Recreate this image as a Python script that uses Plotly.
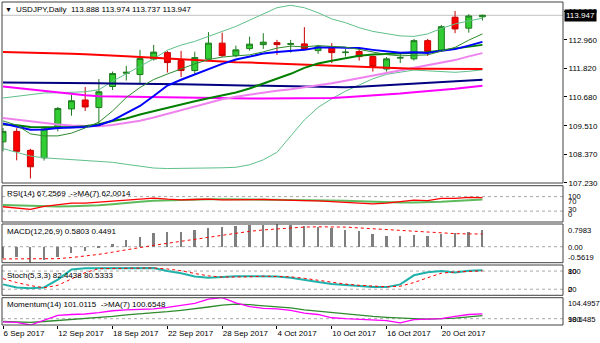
import plotly.graph_objects as go

# ---------------- data ----------------
dates = ["6 Sep 2017", "12 Sep 2017", "18 Sep 2017", "22 Sep 2017", "28 Sep 2017",
         "4 Oct 2017", "10 Oct 2017", "16 Oct 2017", "20 Oct 2017"]
date_bars = [0, 4, 8, 12, 16, 20, 24, 28, 32]
bars = list(range(36))

opens = [108.87, 109.29, 108.53, 108.23, 109.41, 110.19, 110.55, 110.25, 111.09, 111.62,
         111.57, 112.19, 112.45, 112.13, 111.73, 112.19, 112.83, 112.33, 112.61, 112.77,
         112.85, 112.78, 112.80, 112.53, 112.65, 112.45, 112.49, 112.29, 111.79, 112.23,
         112.20, 112.93, 112.53, 113.87, 113.43, 113.888]
highs = [109.43, 109.42, 108.59, 109.49, 110.27, 110.75, 111.07, 111.39, 111.69, 111.92,
         112.56, 112.76, 112.52, 112.52, 112.49, 113.27, 113.25, 112.73, 113.09, 113.23,
         112.96, 112.96, 113.47, 112.76, 112.83, 112.59, 112.65, 112.33, 112.27, 112.43,
         113.00, 113.00, 113.56, 114.12, 113.99, 113.974]
lows = [108.49, 108.13, 107.40, 108.12, 109.29, 109.92, 110.11, 109.60, 110.95, 111.33,
        111.18, 112.13, 111.65, 111.47, 111.60, 112.13, 112.27, 112.27, 112.53, 112.60,
        112.36, 112.45, 112.56, 112.40, 112.03, 112.29, 112.13, 111.69, 111.69, 112.03,
        112.13, 112.32, 112.49, 113.23, 113.25, 113.737]
closes = [109.29, 108.49, 107.87, 109.39, 110.21, 110.52, 110.27, 110.88, 111.61, 111.66,
          112.21, 112.47, 112.05, 111.73, 112.25, 112.83, 112.33, 112.56, 112.79, 112.87,
          112.77, 112.81, 112.61, 112.69, 112.45, 112.47, 112.29, 111.89, 112.20, 112.25,
          112.93, 112.49, 113.49, 113.40, 113.92, 113.947]
last_price = 113.947

ma_fast = [109.71, 109.54, 109.19, 109.11, 109.11, 109.22, 109.43, 109.66, 110.11, 110.65,
           111.05, 111.37, 111.59, 111.80, 112.00, 112.17, 112.27, 112.32, 112.36, 112.48,
           112.63, 112.71, 112.68, 112.73, 112.71, 112.67, 112.58, 112.46, 112.37, 112.32,
           112.35, 112.36, 112.51, 112.66, 112.95, 113.20]
ma_blue = [109.61, 109.50, 109.36, 109.37, 109.43, 109.45, 109.47, 109.54, 109.73, 110.02,
           110.31, 110.71, 111.13, 111.36, 111.57, 111.80, 112.00, 112.17, 112.29, 112.41,
           112.47, 112.50, 112.56, 112.65, 112.67, 112.64, 112.63, 112.56, 112.51, 112.44,
           112.46, 112.43, 112.52, 112.59, 112.73, 112.88]
ma_dkgreen = [109.57, 109.54, 109.47, 109.46, 109.44, 109.46, 109.50, 109.58, 109.71, 109.81,
              109.97, 110.11, 110.25, 110.37, 110.50, 110.62, 110.74, 110.85, 111.01, 111.21,
              111.39, 111.60, 111.84, 112.01, 112.12, 112.22, 112.32, 112.37, 112.40, 112.43,
              112.46, 112.46, 112.54, 112.62, 112.70, 112.76]
bb_upper = [110.63, 110.70, 110.78, 110.83, 110.84, 110.85, 110.88, 110.96, 111.30, 111.60,
            111.90, 112.20, 112.55, 112.75, 112.90, 113.10, 113.30, 113.50, 113.75, 114.00,
            114.25, 114.35, 114.25, 114.05, 113.80, 113.65, 113.45, 113.30, 113.20, 113.12,
            113.10, 113.20, 113.42, 113.60, 113.72, 113.83]
bb_lower = [108.60, 108.45, 108.30, 108.23, 108.20, 108.17, 108.13, 108.10, 108.05, 107.97,
            107.90, 107.82, 107.80, 107.80, 107.81, 107.82, 107.83, 107.85, 107.95, 108.15,
            108.45, 109.10, 109.75, 110.25, 110.60, 110.90, 111.15, 111.40, 111.58, 111.68,
            111.75, 111.72, 111.68, 111.66, 111.70, 111.76]
ma_red = [112.47, 112.46, 112.45, 112.44, 112.42, 112.40, 112.38, 112.36, 112.33, 112.30,
          112.27, 112.24, 112.20, 112.16, 112.13, 112.10, 112.08, 112.06, 112.05, 112.03,
          112.00, 111.98, 111.96, 111.95, 111.93, 111.91, 111.89, 111.86, 111.83, 111.81,
          111.80, 111.80, 111.79, 111.79, 111.79, 111.79]
ma_navy = [111.25, 111.25, 111.24, 111.24, 111.23, 111.23, 111.22, 111.22, 111.21, 111.21,
           111.20, 111.20, 111.19, 111.18, 111.17, 111.16, 111.15, 111.14, 111.13, 111.12,
           111.11, 111.09, 111.07, 111.05, 111.05, 111.06, 111.08, 111.11, 111.14, 111.17,
           111.20, 111.24, 111.28, 111.31, 111.34, 111.36]
ma_magenta = [111.09, 111.03, 110.96, 110.90, 110.85, 110.80, 110.74, 110.70, 110.69, 110.68,
              110.67, 110.66, 110.65, 110.64, 110.63, 110.63, 110.62, 110.62, 110.61, 110.61,
              110.61, 110.61, 110.62, 110.62, 110.63, 110.66, 110.69, 110.73, 110.77, 110.81,
              110.86, 110.90, 110.95, 111.00, 111.06, 111.12]
ma_violet = [109.83, 109.76, 109.68, 109.62, 109.57, 109.53, 109.50, 109.50, 109.55, 109.63,
             109.72, 109.85, 110.00, 110.15, 110.30, 110.45, 110.58, 110.68, 110.77, 110.85,
             110.92, 110.98, 111.05, 111.12, 111.22, 111.32, 111.42, 111.52, 111.62, 111.72,
             111.82, 111.92, 112.03, 112.15, 112.30, 112.43]

rsi = [42, 38, 35, 43, 48, 52, 52, 55, 59, 61, 64, 66, 63, 61, 62, 63, 61, 62, 62, 62,
       61, 61, 59, 58, 56, 53, 51, 50, 52, 55, 60, 59, 65, 65, 68, 67.2569]
rsi_ma = [47, 46, 44, 43, 43, 43.5, 44.3, 46.1, 49.1, 52.9, 55.9, 58.4, 60.0, 61.3, 62.3, 62.9,
          62.9, 62.6, 62.0, 61.9, 61.9, 61.7, 61.1, 60.7, 59.9, 58.6, 57.0, 55.4, 54.1, 53.6,
          53.9, 54.3, 56.0, 58.0, 60.6, 62.0014]

macd_main = [-0.40, -0.37, -0.5619, -0.47, -0.36, -0.23, -0.16, -0.06, 0.08, 0.22,
             0.35, 0.48, 0.51, 0.53, 0.58, 0.66, 0.70, 0.73, 0.75, 0.78,
             0.7983, 0.77, 0.73, 0.69, 0.66, 0.60, 0.54, 0.43, 0.39, 0.39,
             0.40, 0.37, 0.46, 0.49, 0.52, 0.5803]
macd_signal = [-0.43, -0.43, -0.44, -0.44, -0.42, -0.38, -0.33, -0.27, -0.19, -0.12,
               -0.03, 0.05, 0.12, 0.19, 0.27, 0.35, 0.42, 0.48, 0.54, 0.59,
               0.63, 0.66, 0.69, 0.70, 0.70, 0.69, 0.66, 0.63, 0.60, 0.57,
               0.54, 0.51, 0.47, 0.46, 0.45, 0.4491]

stoch_k = [36, 26, 23, 26, 52, 85, 89, 89, 90, 90, 90, 90, 80, 73, 62, 58, 60, 63, 63, 63,
           62, 58, 50, 44, 37, 33, 30, 27, 27, 36, 66, 76, 80, 75, 81, 82.4438]
stoch_d = [55, 42, 32, 25, 33, 54, 75, 88, 89, 90, 90, 90, 87, 81, 72, 64, 60, 60, 61, 63,
           63, 61, 56, 50, 42, 37, 33, 30, 28, 30, 42, 58, 73, 77, 79, 80.5333]

momentum = [99.3, 99.2, 98.6485, 99.7, 100.7, 100.9, 101.0, 101.3, 101.7, 101.9,
            102.0, 102.1, 102.4, 102.8, 103.3, 104.2, 104.4957, 103.4, 102.6, 102.2,
            102.1, 101.8, 101.2, 100.9, 100.2, 100.0, 99.9, 99.8, 99.6, 99.1,
            99.8, 99.9, 100.0, 100.5, 100.9, 101.0115]
momentum_ma = [99.4, 99.3, 99.2, 99.4, 99.6, 99.8, 100.0, 100.2, 100.5, 100.8,
               101.0, 101.3, 101.5, 101.8, 102.1, 102.5, 102.9, 103.1, 103.0, 102.8,
               102.6, 102.3, 101.9, 101.6, 101.3, 101.0, 100.7, 100.5, 100.3, 100.1,
               100.0, 99.9, 99.95, 100.1, 100.4, 100.6548]

price_ticks = [114.10, 112.96, 111.82, 110.68, 109.51, 108.37, 107.23]
price_tick_text = ["114.100", "112.960", "111.820", "110.680", "109.510", "108.370", "107.230"]

# ---------------- layout helpers ----------------
W, H = 600, 343
def PX(x):
    return x / W
def PY(y):
    return 1 - y / H

FONT = "Liberation Sans, Arial, sans-serif"
FS = 8
X0, X1 = 2, 563
panels = {  # top, bottom in pixels
    "y": (2, 183),
    "y2": (185.7, 222),
    "y3": (224, 262.7),
    "y4": (265, 295.3),
    "y5": (297.7, 325),
}

fig = go.Figure()

def line(y, color, width, axis="y", dash="solid"):
    fig.add_trace(go.Scatter(x=bars, y=y, mode="lines", xaxis="x", yaxis=axis,
                             line=dict(color=color, width=width, dash=dash),
                             hoverinfo="skip", showlegend=False))

# main panel lines
line(bb_upper, "#5FC08A", 1)
line(bb_lower, "#5FC08A", 1)
line(ma_magenta, "#FF00FF", 2)
line(ma_navy, "#000080", 2)
line(ma_violet, "#EE82EE", 2)
line(ma_red, "#FF0000", 2)
line(ma_dkgreen, "#008000", 2)
line(ma_blue, "#0000FF", 2)
line(ma_fast, "#2E8B2E", 1)

fig.add_trace(go.Candlestick(
    x=bars, open=opens, high=highs, low=lows, close=closes,
    xaxis="x", yaxis="y", whiskerwidth=0,
    increasing=dict(fillcolor="#32CD32", line=dict(color="#1E7B1E", width=1)),
    decreasing=dict(fillcolor="#FF0000", line=dict(color="#C80000", width=1)),
    hoverinfo="skip", showlegend=False))

# RSI
line(rsi_ma, "#5DBB5D", 2, "y2")
line(rsi, "#FF0000", 1.3, "y2")
# MACD
fig.add_trace(go.Bar(x=bars, y=macd_main, xaxis="x", yaxis="y3", width=0.14,
                     marker=dict(color="#7F7F7F", line=dict(width=0)),
                     hoverinfo="skip", showlegend=False))
line(macd_signal, "#FF0000", 1, "y3", "dot")
# Stoch
line(stoch_k, "#20B2AA", 2, "y4")
line(stoch_d, "#FF0000", 1, "y4", "dot")
# Momentum
line(momentum_ma, "#2E8B2E", 1.3, "y5")
line(momentum, "#FF00FF", 1.3, "y5")

def dom(key):
    t, b = panels[key]
    return [PY(b), PY(t)]

common_hidden = dict(showgrid=False, zeroline=False, showticklabels=False, ticks="",
                     showline=False, fixedrange=True, automargin=False)

fig.update_layout(
    width=W, height=H, autosize=False,
    margin=dict(l=0, r=0, t=0, b=0, pad=0, autoexpand=False),
    paper_bgcolor="white", plot_bgcolor="white",
    font=dict(family=FONT, size=FS, color="black"),
    showlegend=False, bargap=0, boxgap=0.38,
    xaxis=dict(domain=[PX(X0), PX(X1)], range=[-0.073, 40.88], anchor="y5",
               tickmode="array", tickvals=date_bars, ticktext=dates,
               ticks="outside", ticklen=3, tickcolor="black", tickangle=0,
               ticklabelposition="outside right", automargin=False,
               showgrid=False, zeroline=False, showline=False,
               rangeslider=dict(visible=False), tickfont=dict(size=FS)),
    yaxis=dict(domain=dom("y"), range=[107.22, 114.48], anchor="x", side="right",
               tickmode="array", tickvals=price_ticks, ticktext=price_tick_text,
               ticks="outside", ticklen=3, tickcolor="black", automargin=False,
               showgrid=False, zeroline=False, showline=False, tickfont=dict(size=FS)),
    yaxis2=dict(domain=dom("y2"), range=[0, 100], anchor="x", **common_hidden),
    yaxis3=dict(domain=dom("y3"), range=[-0.5619, 0.7983], anchor="x", **common_hidden),
    yaxis4=dict(domain=dom("y4"), range=[0, 100], anchor="x", **common_hidden),
    yaxis5=dict(domain=dom("y5"), range=[98.6485, 104.4957], anchor="x", **common_hidden),
)

shapes = []
# bid line
shapes.append(dict(type="line", xref="paper", yref="y", x0=PX(X0), x1=PX(X1),
                   y0=last_price, y1=last_price, line=dict(color="#C0C0C0", width=1), layer="below"))
# level lines
for ax, lv in [("y2", 70), ("y2", 30), ("y3", 0), ("y4", 80), ("y4", 20), ("y5", 100)]:
    shapes.append(dict(type="line", xref="paper", yref=ax, x0=PX(X0), x1=PX(X1),
                       y0=lv, y1=lv, line=dict(color="#A8A8A8", width=1, dash="dot"), layer="below"))
# panel borders
for key, (t, b) in panels.items():
    shapes.append(dict(type="rect", xref="paper", yref="paper", x0=PX(X0), x1=PX(X1),
                       y0=PY(b), y1=PY(t), line=dict(color="#404040", width=1)))
fig.update_layout(shapes=shapes)

NB = "\u00a0"
anns = []
def txt(x, y, s, size=FS, **kw):
    d = dict(xref="paper", yref="paper", x=PX(x), y=PY(y), text=s, showarrow=False,
             xanchor="left", yanchor="middle", borderpad=0,
             font=dict(size=size, color="black", family=FONT))
    d.update(kw)
    anns.append(d)

txt(4, 9, "▼", size=7)
txt(15, 9, "USDJPY,Daily" + NB * 2 + "113.888 113.974 113.737 113.947")
txt(6, 193.3, "RSI(14) 67.2569" + NB * 2 + "->MA(7) 62.0014")
txt(6, 231.7, "MACD(12,26,9) 0.5803 0.4491")
txt(6, 275, "Stoch(5,3,3) 82.4438 80.5333")
txt(6, 304, "Momentum(14) 101.0115" + NB * 2 + "->MA(7) 100.6548")

# sub-panel scale labels
RX = 566.5
for y, s in [(196.5, "100"), (201, "70"), (209.5, "30"), (214, "0"),
             (230, "0.7983"), (247, "0.00"), (257.3, "-0.5619"),
             (271.5, "100"), (271.5, "80"), (289.3, "20"), (289.3, "0"),
             (303.3, "104.4957"), (319.3, "98.6485"), (319.3, "100")]:
    txt(RX, y, s, size=7.6)

# current price box
anns.append(dict(xref="paper", yref="y", x=PX(564), y=last_price, text="113.947",
                 showarrow=False, xanchor="left", yanchor="middle", bgcolor="black",
                 borderpad=1, font=dict(size=FS, color="white", family=FONT)))
fig.update_layout(annotations=anns)

fig.write_html("out.html")
